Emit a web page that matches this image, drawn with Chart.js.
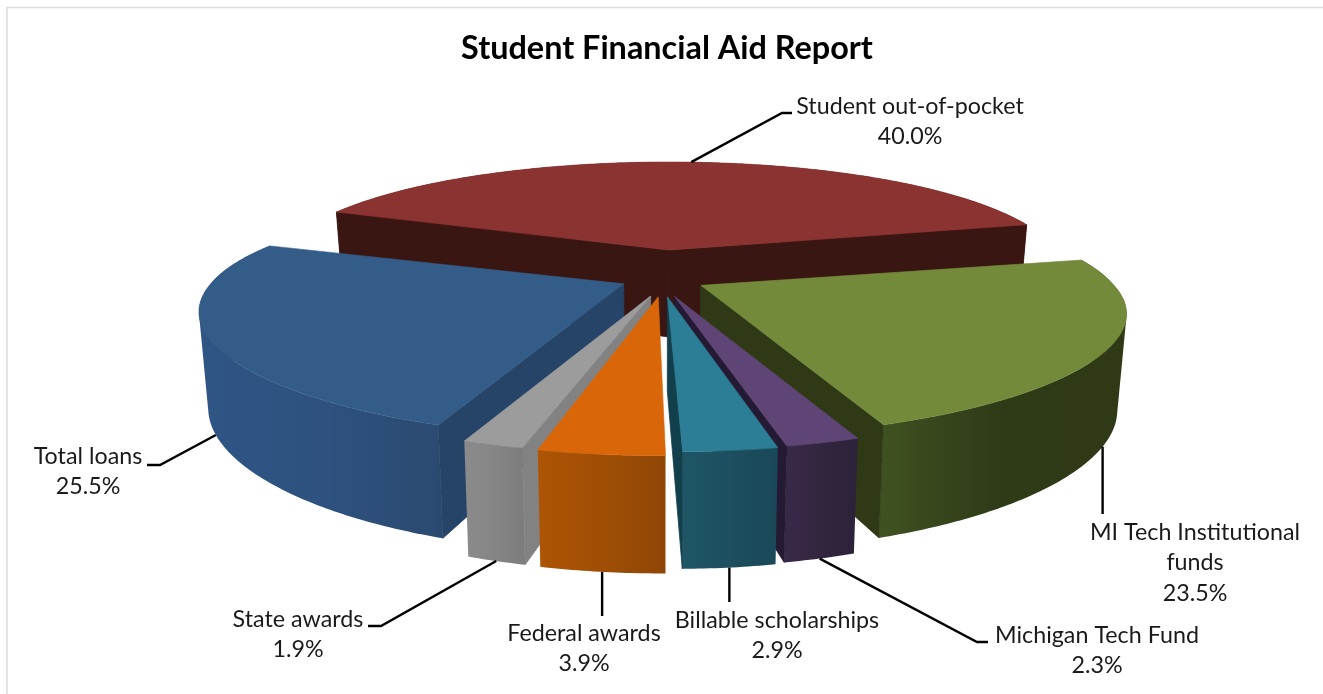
<!DOCTYPE html>
<html>
<head>
<meta charset="utf-8">
<title>Student Financial Aid Report</title>
<script src="https://cdn.jsdelivr.net/npm/chart.js@4"></script>
<style>
    html, body { margin: 0; padding: 0; background: #fff; }
    canvas { display: block; }
</style>
</head>
<body>
<canvas id="aidChart" width="1323" height="694"></canvas>
<script>
const categories = ["Student out-of-pocket", "MI Tech Institutional funds", "Michigan Tech Fund", "Billable scholarships", "Federal awards", "State awards", "Total loans"];
const percents = [40.0, 23.5, 2.3, 2.9, 3.9, 1.9, 25.5];

const topColors = ["#8b3331", "#728a3a", "#5e4575", "#2c7d96", "#d96608", "#9c9c9c", "#345c88"];
const faceColors = ["#3a1613", "#2f3916", "#251a33", "#123f4c", "#a04f05", "#828282", "#264368"];
const wallColors = [
    ["#3a1613", "#3a1613", "#3a1613"],
    ["#405221", "#2f3a17", "#2f3916"],
    ["#38294a", "#33263f", "#2c2239"],
    ["#1f5767", "#1c4f5f", "#1a4858"],
    ["#ad5405", "#a04e05", "#8f4605"],
    ["#8a8a8a", "#858585", "#7c7c7c"],
    ["#2f5584", "#2e517f", "#2b4a70"]
];

// line breaks and label centres, same order as categories
const labelLines = [["Student out-of-pocket"], ["MI Tech Institutional", "funds"], ["Michigan Tech Fund"], ["Billable scholarships"], ["Federal awards"], ["State awards"], ["Total loans"]];
const labelSpots = [[910, 106], [1195, 532], [1097, 635], [777, 620], [584, 633], [298, 619], [88, 456]];
// leader bends after the point where the line leaves the slice, null x keeps the line vertical
const leaderBends = [
    [[782, 113], [792, 113]],
    [[null, 514]],
    [[977, 642], [988, 642]],
    [[null, 602]],
    [[null, 616]],
    [[381, 626], [368, 626]],
    [[160, 465], [147, 465]]
];
const leaderOnTop = [true, false, false, false, false, false, false];
// extra pull of each slice's front rim, in px
const frontNudge = [[0, 0], [10, -1], [11, 2], [9, 3], [1, 7], [-7, 6], [-6, 2]];

const LABEL_FONT = "24px Lato";
const LABEL_SQUEEZE = 0.97;
const LINE_GAP = 30.5;

// tilt of the pie: x and y scale per radius, perspective strength, explode scale
const view = { shiftX: -4, backShiftX: 3, sx: 2.065, sy: 0.557, kx: 0.22, ky: 0.266, ex: 2.15, eyBack: 1.25, eyFront: 1.1, farShrink: 0.06, bottomX: 0.98 };

const wallHeight = topY => 87 + 0.15 * (topY - 250);
const midOf = arc => (arc.startAngle + arc.endAngle) / 2;
const centreX = arc => arc.x + view.shiftX;

const apexOf = arc => {
    const mid = midOf(arc);
    const s = Math.sin(mid);
    const off = arc.options.offset;
    return {
        x: centreX(arc) + off * view.ex * Math.cos(mid) + (s < 0 ? view.backShiftX : 0),
        y: arc.y + off * (s < 0 ? view.eyBack : view.eyFront) * s
    };
};

const topPoint = (arc, angle, i) => {
    const apex = apexOf(arc);
    const c = Math.cos(angle), s = Math.sin(angle);
    const far = 1 + view.farShrink * Math.min(0, Math.sin(midOf(arc))); // slices pushed back look narrower
    const pull = Math.max(0, s);
    return {
        x: apex.x + arc.outerRadius * view.sx * far * c / (1 - view.kx * s) + frontNudge[i][0] * pull,
        y: apex.y + arc.outerRadius * view.sy * s / (1 - view.ky * s) + frontNudge[i][1] * pull
    };
};

const dropPoint = (arc, p) => ({
    x: centreX(arc) + (p.x - centreX(arc)) * view.bottomX,
    y: p.y + wallHeight(p.y)
});

const tracePoly = (ctx, points) => {
    ctx.beginPath();
    points.forEach((p, i) => i ? ctx.lineTo(p.x, p.y) : ctx.moveTo(p.x, p.y));
    ctx.closePath();
};

const rimOf = (arc, i) => {
    const rim = [];
    const steps = Math.max(6, Math.ceil((arc.endAngle - arc.startAngle) * 90));
    for (let n = 0; n <= steps; n++)
        rim.push(topPoint(arc, arc.startAngle + (arc.endAngle - arc.startAngle) * n / steps, i));
    return rim;
};

// the rim folds over at the silhouette, so the wall is a union of same-wound quads
const fillWall = (ctx, rim, bottom, fill) => {
    ctx.beginPath();
    for (let i = 0; i < rim.length - 1; i++) {
        const quad = [rim[i], rim[i + 1], bottom[i + 1], bottom[i]];
        const area = quad.reduce((sum, p, n) => {
            const q = quad[(n + 1) % 4];
            return sum + p.x * q.y - q.x * p.y;
        }, 0);
        if (area < 0) quad.reverse();
        quad.forEach((p, n) => n ? ctx.lineTo(p.x, p.y) : ctx.moveTo(p.x, p.y));
        ctx.closePath();
    }
    ctx.fillStyle = fill;
    ctx.fill();
};

const drawCutFace = (ctx, arc, angle, i) => {
    const apex = apexOf(arc);
    const corner = topPoint(arc, angle, i);
    const inside = topPoint(arc, midOf(arc), i);
    const ex = corner.x - apex.x, ey = corner.y - apex.y;
    const crossInside = ex * (inside.y - apex.y) - ey * (inside.x - apex.x);
    if (crossInside * ex >= 0) return; // faces away from the viewer
    tracePoly(ctx, [apex, corner, dropPoint(arc, corner), dropPoint(arc, apex)]);
    ctx.fillStyle = ctx.strokeStyle = faceColors[i];
    ctx.lineWidth = 0.8;
    ctx.fill();
    ctx.stroke();
};

const drawWedge = (ctx, arc, i) => {
    const rim = rimOf(arc, i);
    const bottom = rim.map(p => dropPoint(arc, p));
    const xs = bottom.map(p => p.x);
    const grad = ctx.createLinearGradient(Math.min(...xs), 0, Math.max(...xs), 0);
    wallColors[i].forEach((c, n) => grad.addColorStop(n / (wallColors[i].length - 1), c));
    fillWall(ctx, rim, bottom, grad);
    drawCutFace(ctx, arc, arc.startAngle, i);
    drawCutFace(ctx, arc, arc.endAngle, i);
    tracePoly(ctx, [apexOf(arc)].concat(rim));
    ctx.fillStyle = ctx.strokeStyle = topColors[i];
    ctx.lineWidth = 0.6;
    ctx.fill();
    ctx.stroke();
};

const drawLabel = (ctx, arc, i) => {
    const rimMid = topPoint(arc, midOf(arc), i);
    const from = leaderOnTop[i] ? rimMid : dropPoint(arc, rimMid);
    ctx.beginPath();
    ctx.moveTo(from.x, from.y);
    leaderBends[i].forEach(([x, y]) => ctx.lineTo(x === null ? from.x : x, y));
    ctx.strokeStyle = "#000";
    ctx.lineWidth = 2.4;
    ctx.stroke();

    const lines = labelLines[i].concat(percents[i].toFixed(1) + "%");
    ctx.font = LABEL_FONT;
    ctx.fillStyle = "#1a1a1a";
    ctx.textAlign = "center";
    ctx.textBaseline = "middle";
    lines.forEach((line, n) => {
        ctx.save();
        ctx.translate(labelSpots[i][0], labelSpots[i][1] + n * LINE_GAP);
        ctx.scale(LABEL_SQUEEZE, 1);
        ctx.fillText(line, 0, 0);
        ctx.restore();
    });
};

// replaces the flat arcs with extruded ones, using the angles Chart.js worked out
const pie3d = {
    id: "pie3d",
    beforeDraw: chart => {
        const ctx = chart.ctx;
        ctx.save();
        ctx.strokeStyle = "#dcdcdc";
        ctx.lineWidth = 1.5;
        ctx.strokeRect(7, 7.5, 1500, 900);
        ctx.restore();
    },
    beforeDatasetsDraw: chart => {
        const ctx = chart.ctx;
        const arcs = chart.getDatasetMeta(0).data;
        const depth = i => Math.sin(midOf(arcs[i]));
        const order = arcs.map((_, i) => i).sort((a, b) => depth(a) - depth(b));
        ctx.save();
        order.forEach(i => drawWedge(ctx, arcs[i], i));
        arcs.forEach((arc, i) => drawLabel(ctx, arc, i));
        ctx.restore();
        return false;
    }
};

new Chart(document.getElementById("aidChart"), {
    type: "pie",
    data: {
        labels: categories,
        datasets: [{ data: percents, backgroundColor: topColors, offset: 20, borderWidth: 0 }]
    },
    options: {
        responsive: false,
        animation: false,
        radius: 200,
        rotation: -68,
        layout: { padding: { left: 11, bottom: 219 } },
        plugins: {
            legend: { display: false },
            tooltip: { enabled: false },
            title: {
                display: true,
                text: "Student Financial Aid Report",
                color: "#000",
                font: { family: "Lato", size: 32.4, weight: "bold", lineHeight: 1.2 },
                padding: { top: 29, bottom: 7 }
            }
        }
    },
    plugins: [pie3d]
});
</script>
</body>
</html>
